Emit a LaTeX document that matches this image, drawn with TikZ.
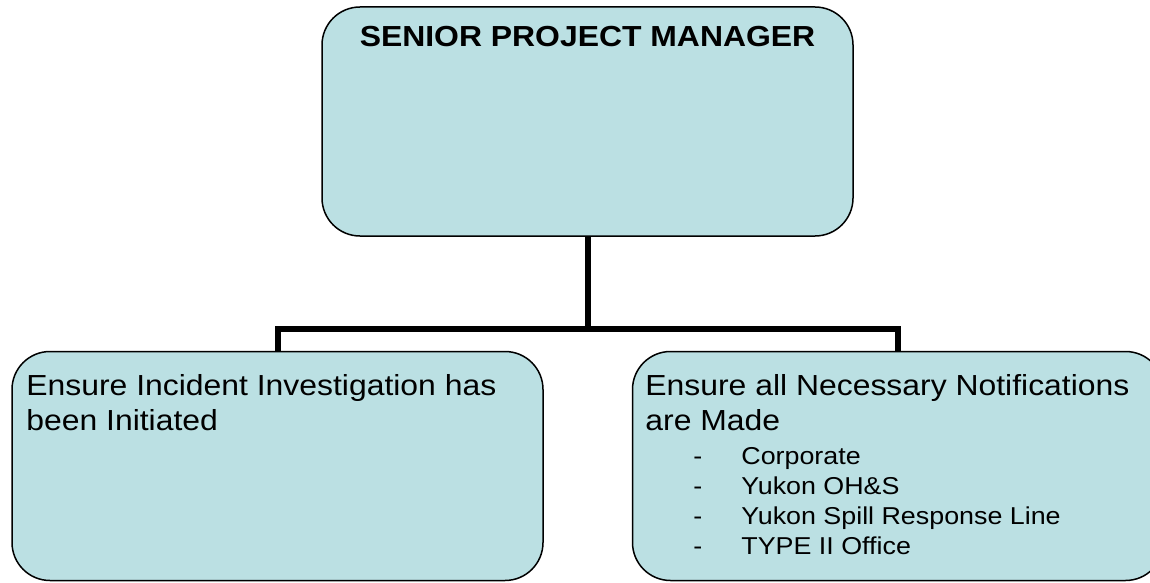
\documentclass[tikz,border=0pt]{standalone}
\usepackage{fontspec}
\setmainfont{Liberation Sans}[FakeStretch=1.1]
\usepackage{tikz}
\usetikzlibrary{positioning}
\definecolor{boxblue}{RGB}{187,224,227}

\begin{document}
\begin{tikzpicture}[x=0.5pt,y=-0.5pt,
  box/.style={draw=black,line width=0.75pt,fill=boxblue,rounded corners=19pt,
    minimum width=265.5pt,minimum height=114.5pt,inner sep=0pt},
  link/.style={line width=3pt},
  boxtext/.style={inner sep=0pt,align=left,font=\fontsize{14.5}{17.5}\selectfont},
  listtext/.style={inner sep=0pt,align=left,font=\fontsize{12.2}{15}\selectfont}]
\useasboundingbox (0,0) rectangle (1150,583);
% boxes
\node[box] (spm) at (587.5,121.5) {};
\node[box] (inv) at (277.5,466) {};
\node[box] (note) at (898,466) {};
% connectors
\coordinate (split) at (587.5,329);
\draw[link] (spm.south) -- (split);
\draw[link] (inv.north) |- (split);
\draw[link] (note.north) |- (split);
% texts (base = last line)
\node[inner sep=0pt,anchor=base,font=\bfseries\fontsize{14.5}{17.5}\selectfont] (spmtext) at (587.5,47) {SENIOR PROJECT MANAGER};
\node[boxtext,anchor=base west] (invtext) at (26,430) {Ensure Incident Investigation has\\been Initiated};
\node[boxtext,anchor=base west] (notetext) at (645,430) {Ensure all Necessary Notifications\\are Made};
\node[listtext,anchor=base west] (notelist) at (693,554) {\makebox[24pt][l]{-}Corporate\\
  \makebox[24pt][l]{-}Yukon OH\&S\\
  \makebox[24pt][l]{-}Yukon Spill Response Line\\
  \makebox[24pt][l]{-}TYPE II Office};
\end{tikzpicture}
\end{document}
